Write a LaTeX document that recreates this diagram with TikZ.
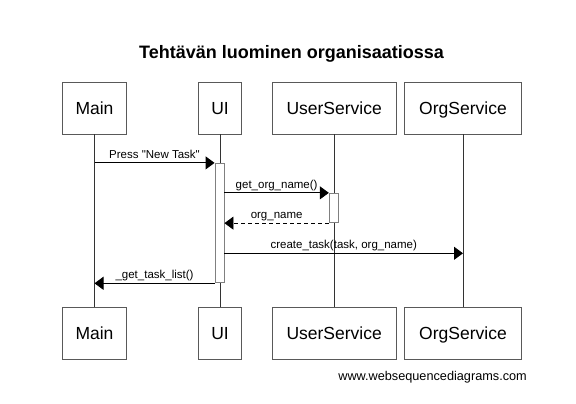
\documentclass[tikz,border=0pt]{standalone}
\usepackage{fontspec}
\setmainfont{Liberation Sans}
\usetikzlibrary{arrows.meta,positioning}
\tikzset{
  actor/.style={draw=black!65, fill=white, line width=0.9pt, minimum height=52pt,
    inner sep=0pt, text height=12.6pt, text depth=0pt, font=\fontsize{17.5}{20}\selectfont},
  life/.style={draw=black!80, line width=0.9pt},
  act/.style={draw=black!50, fill=white, line width=0.9pt, minimum width=9pt, inner sep=0pt},
  msg/.style={-{Triangle[length=9pt, width=13pt]}, line width=0.9pt, color=black},
  reply/.style={msg, dash pattern=on 4pt off 3pt},
  lab/.style={font=\fontsize{11.5}{13}\selectfont, anchor=base, yshift=4.8pt, inner sep=0pt}
}
\begin{document}
\begin{tikzpicture}[x=1pt,y=-1pt]
\useasboundingbox (0,0) rectangle (576,404);

% ---------------- Title ----------------
\node[font=\fontsize{18}{21}\selectfont\bfseries, anchor=base] (title) at (291.5,58.3) {Tehtävän luominen organisaatiossa};

% ---------------- Participants ----------------
\node[actor, minimum width=64pt] (mainTop) at (94.5,108) {Main};
\node[actor, minimum width=43pt] (uiTop) at (220,108) {UI};
\node[actor, minimum width=123.7pt] (usTop) at (334.2,108) {UserService};
\node[actor, minimum width=117.4pt] (osTop) at (463,108) {OrgService};

\node[actor, minimum width=64pt] (mainBot) at (94.5,333.3) {Main};
\node[actor, minimum width=43pt] (uiBot) at (220,333.3) {UI};
\node[actor, minimum width=123.7pt] (usBot) at (334.2,333.3) {UserService};
\node[actor, minimum width=117.4pt] (osBot) at (463,333.3) {OrgService};

% ---------------- Lifelines ----------------
\draw[life] (mainTop) -- (mainBot);
\draw[life] (uiTop) -- (uiBot);
\draw[life] (usTop) -- (usBot);
\draw[life] (osTop) -- (osBot);

% ---------------- Activations ----------------
\node[act, minimum height=119.5pt] (uiAct) at (219.5,223.1) {};
\node[act, minimum height=29.4pt] (usAct) at (333.8,208) {};
\coordinate (createY) at (0,253.3);

% ---------------- Messages ----------------
\draw[msg] (mainTop |- uiAct.north) -- node[lab, midway] {Press \textquotedbl New Task\textquotedbl} (uiAct.north west);
\draw[msg] (uiAct.east |- usAct.north) -- node[lab, midway] {get\_org\_name()} (usAct.north west);
\draw[reply] (usAct.south west) -- node[lab, midway] {org\_name} (uiAct.east |- usAct.south);
\draw[msg] (uiAct.east |- createY) -- node[lab, midway] {create\_task(task, org\_name)} (osTop |- createY);
\draw[msg] (uiAct.south west) -- node[lab, midway] {\_get\_task\_list()} (mainTop |- uiAct.south);

% ---------------- Watermark ----------------
\node[font=\fontsize{12.7}{15}\selectfont, anchor=base east, inner sep=0pt] (mark) at (527,380) {www.websequencediagrams.com};

\end{tikzpicture}
\end{document}
